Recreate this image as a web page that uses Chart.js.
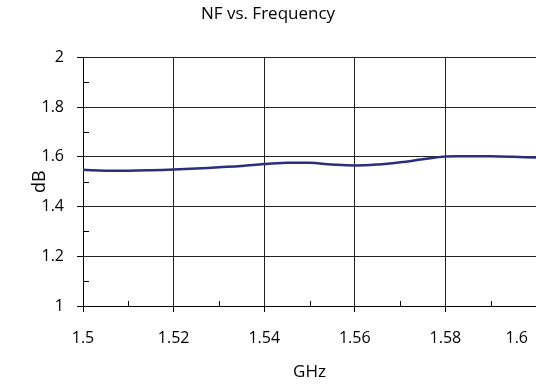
<!DOCTYPE html>
<html>
<head>
<meta charset="utf-8">
<script src="https://cdn.jsdelivr.net/npm/chart.js@4"></script>
<style>
html,body{margin:0;padding:0;background:#fff;}
#wrap{width:536px;height:388px;}
</style>
</head>
<body>
<div id="wrap"><canvas id="c" width="536" height="388"></canvas></div>
<script>
const frequencies = [1.500,1.505,1.510,1.515,1.520,1.525,1.530,1.535,1.540,1.545,1.550,1.555,1.560,1.565,1.570,1.575,1.580,1.585,1.590,1.595,1.600];
const nfValues    = [1.548,1.544,1.544,1.546,1.549,1.553,1.558,1.563,1.571,1.576,1.576,1.569,1.565,1.569,1.578,1.590,1.601,1.602,1.602,1.600,1.597];
const xTicks = [1.5,1.52,1.54,1.56,1.58,1.6];
const yTicks = [1,1.2,1.4,1.6,1.8,2];
const xMinorTicks = [1.51,1.53,1.55,1.57,1.59];
const yMinorTicks = [1.1,1.3,1.5,1.7,1.9];
const chartTitle = 'NF vs. Frequency';
const xTitle = 'GHz';
const yTitle = 'dB';

const FONT = "'Open Sans', 'DejaVu Sans', sans-serif";
const X_TICK_PAD = 17;
const TICK_LEN = 6;
const TICK_FONT = 16;
const fmt = v => String(parseFloat(Number(v).toFixed(3)));

const minorTicksPlugin = {
  id: 'minorTicks',
  afterDraw(chart) {
    const ctx = chart.ctx, xs = chart.scales.x, ys = chart.scales.y;
    const area = chart.chartArea;
    ctx.save();
    ctx.strokeStyle = '#000';
    ctx.lineWidth = 1;
    ctx.beginPath();
    xMinorTicks.forEach(v => {
      const px = Math.round(xs.getPixelForValue(v)) + 0.5;
      ctx.moveTo(px, area.bottom);
      ctx.lineTo(px, area.bottom - 5);
    });
    yMinorTicks.forEach(v => {
      const py = Math.round(ys.getPixelForValue(v)) + 0.5;
      ctx.moveTo(area.left, py);
      ctx.lineTo(area.left + 6, py);
    });
    ctx.stroke();
    // last x label shifted inside the canvas
    const last = xTicks[xTicks.length - 1];
    ctx.fillStyle = '#000';
    ctx.font = TICK_FONT + "px " + FONT;
    ctx.textAlign = 'right';
    ctx.textBaseline = 'middle';
    ctx.fillText(fmt(last), Math.min(xs.getPixelForValue(last) + 11, chart.width - 8),
                 xs.top + TICK_LEN + X_TICK_PAD + TICK_FONT * 1.2 / 2);
    ctx.restore();
  }
};

new Chart(document.getElementById('c'), {
  type: 'line',
  data: {
    datasets: [{
      data: frequencies.map((f, i) => ({x: f, y: nfValues[i]})),
      borderColor: '#2b2f7d',
      borderWidth: 2.5,
      pointRadius: 0,
      tension: 0.4,
      fill: false
    }]
  },
  options: {
    responsive: false,
    animation: false,
    devicePixelRatio: 1,
    layout: {padding: {left: 0, right: 0, top: 0, bottom: 0}},
    plugins: {
      legend: {display: false},
      tooltip: {enabled: false},
      title: {
        display: true,
        text: chartTitle,
        color: '#000',
        font: {family: FONT, size: 17, weight: 'normal'},
        padding: {top: 4, bottom: 33}
      }
    },
    scales: {
      x: {
        type: 'linear',
        min: 1.5, max: 1.6,
        afterBuildTicks: s => { s.ticks = xTicks.map(v => ({value: v})); },
        afterFit: s => { s.height = 82; s.paddingLeft = 0; s.paddingRight = 0; },
        ticks: {
          color: '#000',
          font: {family: FONT, size: TICK_FONT},
          padding: X_TICK_PAD,
          maxRotation: 0,
          autoSkip: false,
          callback: (v) => v === xTicks[xTicks.length - 1] ? '' : fmt(v)
        },
        grid: {color: '#222', lineWidth: 1, tickLength: TICK_LEN, tickColor: '#000', drawTicks: true},
        border: {color: '#000', width: 1},
        title: {
          display: true, text: xTitle, color: '#000',
          font: {family: FONT, size: 17},
          padding: {top: 0, bottom: 6}
        }
      },
      y: {
        min: 1, max: 2,
        afterBuildTicks: s => { s.ticks = yTicks.map(v => ({value: v})); },
        afterFit: s => { s.width = 83; s.paddingTop = 0; s.paddingBottom = 0; },
        ticks: {
          color: '#000',
          font: {family: FONT, size: TICK_FONT},
          padding: 13,
          callback: v => fmt(v)
        },
        grid: {color: '#222', lineWidth: 1, tickLength: TICK_LEN, tickColor: '#000', drawTicks: true},
        border: {color: '#000', width: 1},
        title: {
          display: true, text: yTitle, color: '#000',
          font: {family: FONT, size: 18},
          padding: {top: 29, bottom: 0}
        }
      }
    }
  },
  plugins: [minorTicksPlugin]
});
</script>
</body>
</html>
